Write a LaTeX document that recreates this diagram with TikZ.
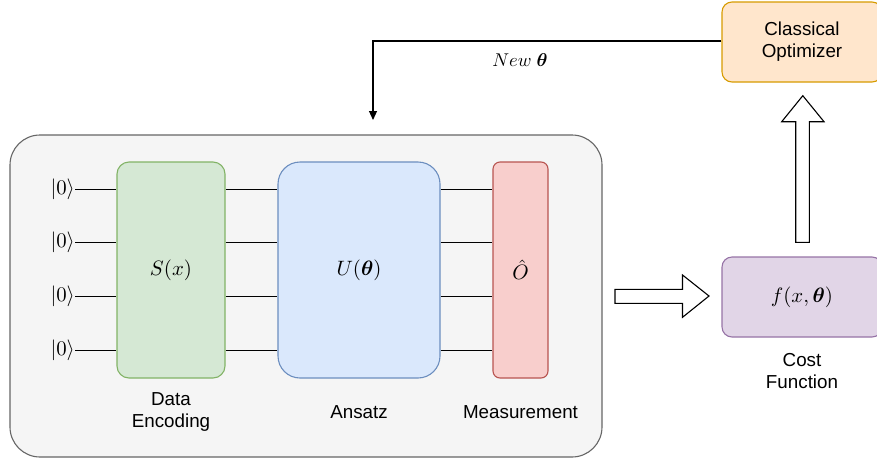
\documentclass[tikz,border=0pt]{standalone}
\usepackage{graphicx}
\usepackage{bm}
\usepackage[no-math]{fontspec}
\setmainfont{Liberation Sans}
\usetikzlibrary{arrows.meta}
\definecolor{contF}{HTML}{F5F5F5}\definecolor{contD}{HTML}{666666}
\definecolor{grnF}{HTML}{D5E8D4}\definecolor{grnD}{HTML}{82B366}
\definecolor{bluF}{HTML}{DAE8FC}\definecolor{bluD}{HTML}{6C8EBF}
\definecolor{redF}{HTML}{F8CECC}\definecolor{redD}{HTML}{B85450}
\definecolor{orgF}{HTML}{FFE6CC}\definecolor{orgD}{HTML}{D79B00}
\definecolor{purF}{HTML}{E1D5E7}\definecolor{purD}{HTML}{9673A6}
\newcommand{\mybigmath}[1]{\scalebox{2.08}{$#1$}}
\begin{document}
\begin{tikzpicture}[x=1pt,y=-1pt,
  box/.style={rectangle,inner sep=0pt,line width=1.1pt},
  lbl/.style={font=\fontsize{18.8}{22}\selectfont,align=center,inner sep=0pt},
  mth/.style={inner sep=0pt},
  wire/.style={line width=1pt,black},
  blk/.style={draw=black,fill=white,line width=1.1pt,line join=miter}]
\useasboundingbox (0,0) rectangle (877,461);
% container
\node[box,draw=contD,fill=contF,rounded corners=30pt,minimum width=592pt,minimum height=322pt] (cont) at (306,296) {};
% gates
\node[box,draw=grnD,fill=grnF,rounded corners=12pt,minimum width=108pt,minimum height=216pt] (enc) at (171,270) {\mybigmath{S(x)}};
\node[box,draw=bluD,fill=bluF,rounded corners=22pt,minimum width=162pt,minimum height=216pt] (ans) at (359,270) {\mybigmath{U(\bm{\theta})}};
\node[box,draw=redD,fill=redF,rounded corners=7pt,minimum width=55pt,minimum height=216pt] (meas) at (520.5,270) {\mybigmath{\hat{O}}};
% kets
\foreach \i/\y in {1/189,2/242,3/296,4/350}{
  \node[mth,anchor=east] (k\i) at (75,\y) {\mybigmath{|0\rangle}};
  \draw[wire] (k\i.east) -- (k\i.east -| enc.west);
  \draw[wire] (enc.east |- k\i.east) -- (ans.west |- k\i.east);
  \draw[wire] (ans.east |- k\i.east) -- (meas.west |- k\i.east);
}
% labels
\node[lbl] (encL) at (171,412) {Data\\Encoding};
\node[lbl] (ansL) at (359,412) {Ansatz};
\node[lbl] (measL) at (520.5,412) {Measurement};
% cost and optimizer
\node[box,draw=purD,fill=purF,rounded corners=10pt,minimum width=160pt,minimum height=80pt] (cost) at (802,297) {\mybigmath{f(x,\bm{\theta})}};
\node[lbl] (costL) at (802,371) {Cost\\Function};
\node[box,lbl,draw=orgD,fill=orgF,rounded corners=10pt,minimum width=160pt,minimum height=80pt] (opt) at (802,42) {Classical\\Optimizer};
% block arrows
\draw[blk] (615,289.3) -- (682.5,289.3) -- (682.5,275) -- (709,296) -- (682.5,317.3) -- (682.5,303.3) -- (615,303.3) -- cycle;
\draw[blk] (795.7,242.3) -- (795.7,121.7) -- (781.7,121.7) -- (802.8,95.7) -- (824,121.7) -- (809.3,121.7) -- (809.3,242.3) -- cycle;
% feedback
\coordinate (fbend) at (373,120);
\draw[line width=1.1pt,-{Triangle[length=9pt,width=8pt]}] (opt.west |- 0,41) -| (fbend);
\node[inner sep=0pt] (newT) at (520,60) {\scalebox{1.85}{$New\;\bm{\theta}$}};
\end{tikzpicture}
\end{document}
